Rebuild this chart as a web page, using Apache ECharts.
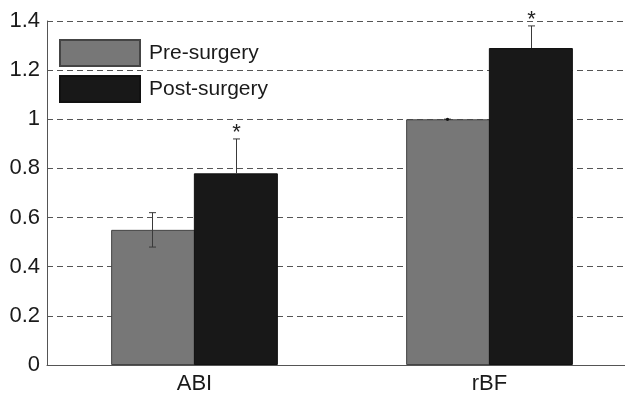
<!DOCTYPE html>
<html>
<head>
<meta charset="utf-8">
<script src="https://cdn.jsdelivr.net/npm/echarts@6/dist/echarts.min.js"></script>
<style>
html,body{margin:0;padding:0;background:#fff;overflow:hidden;}
#chart{width:640px;height:395px;}
</style>
</head>
<body>
<div id="chart"></div>
<script>
var categories = ['ABI', 'rBF'];
var seriesNames = ['Pre-surgery', 'Post-surgery'];
var preValues = [0.55, 1.00];
var postValues = [0.78, 1.29];
var preErrors = [0.07, 0.00];
var postErrors = [0.14, 0.09];
var postSignificant = [true, true];
var yTicks = [0, 0.2, 0.4, 0.6, 0.8, 1, 1.2, 1.4];

var FONT = 'Liberation Sans, Arial, sans-serif';
var BAR_W = 84;

function errData(vals, errs, sig, upperOnly) {
  return vals.map(function (v, i) {
    return [i, v, errs[i], sig ? (sig[i] ? 1 : 0) : 0, upperOnly ? 1 : 0];
  });
}

function makeErrRender(offset) {
  return function (params, api) {
    var idx = api.value(0), v = api.value(1), e = api.value(2);
    var star = api.value(3), upperOnly = api.value(4);
    var c = api.coord([idx, v]);
    var top = api.coord([idx, v + e]);
    var bot = api.coord([idx, upperOnly ? v : v - e]);
    var x = c[0] + offset;
    var hw = 3.5;
    var st = { stroke: '#3a3a3a', lineWidth: 1 };
    var children = [
      { type: 'line', shape: { x1: x, y1: top[1], x2: x, y2: bot[1] }, style: st },
      { type: 'line', shape: { x1: x - hw, y1: top[1], x2: x + hw, y2: top[1] }, style: st }
    ];
    if (!upperOnly) {
      children.push({ type: 'line', shape: { x1: x - hw, y1: bot[1], x2: x + hw, y2: bot[1] }, style: st });
    }
    if (e === 0) {
      children.push({ type: 'circle', shape: { cx: x, cy: c[1], r: 1.6 }, style: { fill: '#111' } });
    }
    if (star) {
      children.push({
        type: 'text',
        style: {
          text: '*', x: x, y: top[1] + 5,
          textAlign: 'center', textVerticalAlign: 'bottom',
          font: '22px ' + FONT, fill: '#222'
        }
      });
    }
    return { type: 'group', children: children };
  };
}

var chart = echarts.init(document.getElementById('chart'), null, { renderer: 'canvas' });
chart.setOption({
  animation: false,
  backgroundColor: '#fff',
  grid: { left: 47, top: 21, bottom: 27, right: 3, containLabel: false },
  legend: {
    orient: 'vertical',
    left: 59, top: 39, padding: 0,
    itemWidth: 80, itemHeight: 26, itemGap: 8,
    icon: 'rect',
    data: seriesNames,
    textStyle: { fontFamily: FONT, fontSize: 21, color: '#1a1a1a', padding: [0, 0, 0, 4] }
  },
  xAxis: {
    type: 'category',
    data: categories,
    axisLine: { show: true, lineStyle: { color: '#555', width: 1 } },
    axisTick: { show: false },
    axisLabel: { fontFamily: FONT, fontSize: 22, color: '#1a1a1a', margin: 8 }
  },
  yAxis: {
    type: 'value',
    min: yTicks[0], max: yTicks[yTicks.length - 1], interval: 0.2,
    axisLine: { show: true, lineStyle: { color: '#555', width: 1 } },
    axisTick: { show: false },
    axisLabel: { fontFamily: FONT, fontSize: 22, color: '#1a1a1a', margin: 7 },
    splitLine: { show: true, lineStyle: { color: '#555', type: [6, 4], width: 1 } }
  },
  series: [
    {
      name: seriesNames[0], type: 'bar', data: preValues,
      barWidth: BAR_W, barGap: '-1.5%',
      itemStyle: { color: '#777777', borderColor: '#444', borderWidth: 1 }
    },
    {
      name: seriesNames[1], type: 'bar', data: postValues,
      barWidth: BAR_W, barGap: '-1.5%',
      itemStyle: { color: '#181818', borderColor: '#111', borderWidth: 1 }
    },
    {
      type: 'custom', data: errData(preValues, preErrors, null, false),
      renderItem: makeErrRender(-BAR_W / 2), z: 10, silent: true
    },
    {
      type: 'custom', data: errData(postValues, postErrors, postSignificant, true),
      renderItem: makeErrRender(BAR_W / 2), z: 10, silent: true
    }
  ]
});
</script>
</body>
</html>
